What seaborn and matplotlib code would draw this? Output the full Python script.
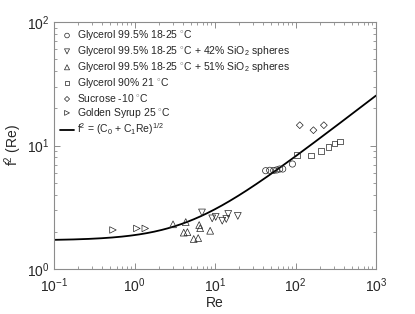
import numpy as np
import pandas as pd
import matplotlib
matplotlib.use("Agg")
import matplotlib.pyplot as plt
import seaborn as sns
from matplotlib.ticker import LogLocator, NullFormatter

sns.set_style("ticks")
plt.rcParams['font.family'] = ['Liberation Sans', 'DejaVu Sans']
plt.rcParams['mathtext.fontset'] = 'custom'
plt.rcParams['mathtext.rm'] = 'Liberation Sans'
plt.rcParams['mathtext.it'] = 'Liberation Sans'

# ---- data ----
gly_re = [42.6, 47.8, 53.6, 58.4, 63.6, 69.4, 91.6]
gly_f2 = [6.25, 6.30, 6.28, 6.34, 6.45, 6.45, 7.08]

si42_re = [6.89, 9.23, 10.2, 12.3, 13.8, 14.6, 19.2]
si42_f2 = [2.87, 2.57, 2.64, 2.46, 2.54, 2.79, 2.69]

si51_re = [3.01, 4.33, 4.09, 4.54, 5.44, 6.18, 6.36, 6.54, 8.71]
si51_f2 = [2.30, 2.40, 1.97, 1.99, 1.75, 1.78, 2.27, 2.14, 2.04]

gly90_re = [104, 156, 207, 258, 304, 359]
gly90_f2 = [8.35, 8.27, 8.99, 9.69, 10.4, 10.8]

suc_re = [113, 167, 225]
suc_f2 = [14.6, 13.3, 14.6]

gs_re = [0.54, 1.07, 1.36]
gs_f2 = [2.07, 2.13, 2.13]

C0 = 2.9
C1 = 0.64

labels = [
    r"Glycerol 99.5% 18-25 $^{\circ}$C",
    r"Glycerol 99.5% 18-25 $^{\circ}$C + 42% SiO$_2$ spheres",
    r"Glycerol 99.5% 18-25 $^{\circ}$C + 51% SiO$_2$ spheres",
    r"Glycerol 90% 21 $^{\circ}$C",
    r"Sucrose -10 $^{\circ}$C",
    r"Golden Syrup 25 $^{\circ}$C",
]
fit_label = r"f$^2$ = (C$_0$ + C$_1$Re)$^{1/2}$"

series = [
    (gly_re, gly_f2, 'o', labels[0]),
    (si42_re, si42_f2, 'v', labels[1]),
    (si51_re, si51_f2, '^', labels[2]),
    (gly90_re, gly90_f2, 's', labels[3]),
    (suc_re, suc_f2, 'D', labels[4]),
    (gs_re, gs_f2, '>', labels[5]),
]

fig = plt.figure(figsize=(4.15, 3.14), dpi=100)
ax = fig.add_axes([54/415, 45/314, 322/415, 247/314])

sizes = {'o': 20, 'v': 24, '^': 24, 's': 16, 'D': 12, '>': 22}
for x, y, m, lab in series:
    df = pd.DataFrame({'Re': x, 'f2': y})
    sns.scatterplot(data=df, x='Re', y='f2', marker=m, s=sizes[m],
                    facecolor='none', edgecolor='#222222', linewidth=0.5,
                    label=lab, ax=ax, zorder=3)

re_fit = np.logspace(-1, 3, 300)
fit_df = pd.DataFrame({'Re': re_fit, 'f2': np.sqrt(C0 + C1 * re_fit)})
sns.lineplot(data=fit_df, x='Re', y='f2', color='black', linewidth=1.3,
             label=fit_label, ax=ax, zorder=2)

ax.set_xscale('log')
ax.set_yscale('log')
ax.set_xlim(0.1, 1000)
ax.set_ylim(1, 100)
ax.xaxis.set_major_locator(LogLocator(base=10, numticks=10))
ax.xaxis.set_minor_locator(LogLocator(base=10, subs=np.arange(2, 10), numticks=20))
ax.yaxis.set_minor_locator(LogLocator(base=10, subs=np.arange(2, 10), numticks=20))
ax.xaxis.set_minor_formatter(NullFormatter())
ax.yaxis.set_minor_formatter(NullFormatter())

for sp in ax.spines.values():
    sp.set_visible(True)
    sp.set_color('#8c8c8c')
    sp.set_linewidth(0.8)
ax.tick_params(which='both', direction='in', top=True, right=True,
               color='#8c8c8c', labelsize=10)
ax.tick_params(axis='x', pad=5)
ax.tick_params(axis='y', pad=3)
ax.tick_params(which='major', length=4, width=0.7)
ax.tick_params(which='minor', length=2, width=0.6)

ax.set_xlabel('Re', fontsize=10, labelpad=1)
ax.set_ylabel(r'f$^2$ (Re)', fontsize=10, labelpad=2)

leg = ax.legend(loc='upper left', frameon=False, fontsize=7.5,
                handlelength=1.3, handletextpad=0.35, labelspacing=0.18,
                borderaxespad=0.3, markerscale=0.75, borderpad=0.3)

fig.savefig('out.png', dpi=100)
